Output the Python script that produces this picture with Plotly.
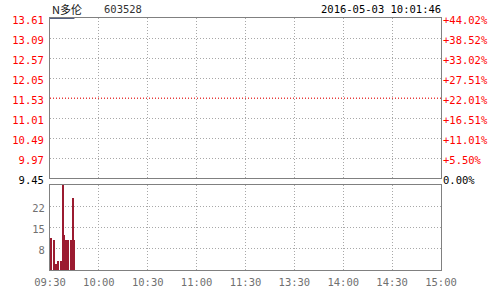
import plotly.graph_objects as go

# ---- data ----
stock_name = "N多伦"
stock_code = "603528"
timestamp = "2016-05-03 10:01:46"

price_ticks = [9.45, 9.97, 10.49, 11.01, 11.53, 12.05, 12.57, 13.09, 13.61]
pct_ticks = ["0.00%", "+5.50%", "+11.01%", "+16.51%", "+22.01%", "+27.51%", "+33.02%", "+38.52%", "+44.02%"]

time_ticks = [0, 30, 60, 90, 120, 150, 180, 210, 240]
time_labels = ["09:30", "10:00", "10:30", "11:00", "11:30", "13:30", "14:00", "14:30", "15:00"]

price_minutes = [0, 1, 2, 3, 4, 5, 6, 7, 8, 9, 10, 11, 12, 13, 14, 15]
price_values = [13.61, 13.61, 13.61, 13.61, 13.61, 13.61, 13.61, 13.61,
                13.61, 13.61, 13.61, 13.61, 13.61, 13.61, 13.61, 13.61]

vol_minutes = [0.6, 2.3, 3.8, 5.2, 6.6, 8.1, 8.6, 10.0, 11.4, 12.8, 14.1, 14.6]
vol_values = [11.1, 10.2, 2.1, 3.1, 3.1, 29.4, 12.1, 10.2, 10.2, 10.2, 24.7, 10.2]

vol_max = 29.33
vol_grid = [7.33, 14.67, 22.0]
vol_labels = ["8", "15", "22"]

# ---- styles ----
FONT = "DejaVu Sans Mono"
RED = "#ff0000"
GRAY = "#808080"
GRID = "#a8a8a8"
BAR = "#9b1b30"
DOT = "1px,2px"

fig = go.Figure()

fig.add_trace(go.Scatter(x=price_minutes, y=price_values, mode="lines",
                         line=dict(color="#1a2a5a", width=1.5),
                         xaxis="x", yaxis="y", showlegend=False, hoverinfo="skip"))
# invisible carrier for the right-hand percent axis
fig.add_trace(go.Scatter(x=[price_minutes[0]], y=[price_values[0]], mode="markers",
                         marker=dict(opacity=0), xaxis="x", yaxis="y3",
                         showlegend=False, hoverinfo="skip"))

fig.add_trace(go.Bar(x=vol_minutes, y=vol_values, width=0.8,
                     marker=dict(color=BAR, line=dict(width=0)),
                     xaxis="x2", yaxis="y2", showlegend=False, hoverinfo="skip"))

left_text = [f'<span style="color:black">{p:.2f}</span>' if i == 0 else f"{p:.2f}"
             for i, p in enumerate(price_ticks)]
right_text = [f'<span style="color:black">{t}</span>' if i == 0 else t
              for i, t in enumerate(pct_ticks)]

main_dom = [0.364, 1.0]
vol_dom = [0.0, 0.337]

fig.update_layout(
    width=500, height=300,
    margin=dict(l=47, r=51, t=18, b=21),
    paper_bgcolor="white", plot_bgcolor="white",
    bargap=0,
    xaxis=dict(domain=[0, 1], range=[0, 240], tickvals=time_ticks, showticklabels=False,
               showgrid=True, gridcolor=GRID, griddash=DOT, gridwidth=1,
               showline=True, linecolor=GRAY, linewidth=1, mirror=True,
               zeroline=False, ticks="", anchor="y"),
    yaxis=dict(domain=main_dom, range=[price_ticks[0], price_ticks[-1]],
               tickvals=price_ticks, ticktext=left_text,
               tickfont=dict(family=FONT, size=10.5, color=RED),
               showgrid=True, gridcolor=GRID, griddash=DOT, gridwidth=1,
               showline=True, linecolor=GRAY, linewidth=1, mirror=True,
               zeroline=False, ticks="", ticklabelstandoff=3, ticklabelshift=2, anchor="x"),
    yaxis3=dict(domain=main_dom, range=[price_ticks[0], price_ticks[-1]],
                overlaying="y", side="right", anchor="x",
                tickvals=price_ticks, ticktext=right_text,
                tickfont=dict(family=FONT, size=10.5, color=RED),
                showgrid=False, showline=False, zeroline=False, ticks="",
                ticklabelstandoff=1, ticklabelshift=2),
    xaxis2=dict(domain=[0, 1], range=[0, 240], tickvals=time_ticks, ticktext=time_labels,
                tickfont=dict(family=FONT, size=10.5, color="#707070"),
                showgrid=True, gridcolor=GRID, griddash=DOT, gridwidth=1,
                showline=True, linecolor=GRAY, linewidth=1, mirror=True,
                zeroline=False, ticks="", anchor="y2", ticklabelstandoff=2),
    yaxis2=dict(domain=vol_dom, range=[0, vol_max], tickvals=vol_grid, ticktext=vol_labels,
                tickfont=dict(family=FONT, size=10.5, color="#707070"),
                showgrid=True, gridcolor=GRID, griddash=DOT, gridwidth=1,
                showline=True, linecolor=GRAY, linewidth=1, mirror=True,
                zeroline=False, ticks="", anchor="x2", ticklabelstandoff=2, ticklabelshift=2),
)

# red dotted midline at the middle price level
fig.add_shape(type="line", xref="x", yref="y", x0=0, x1=240,
              y0=price_ticks[4], y1=price_ticks[4],
              line=dict(color=RED, width=1, dash=DOT))

fig.add_annotation(text=stock_name, xref="paper", yref="paper", x=0, y=1,
                   xanchor="left", yanchor="middle", showarrow=False, yshift=9,
                   font=dict(family="Noto Sans CJK SC", size=11, color="#111111"))
fig.add_annotation(text=stock_code, xref="paper", yref="paper", x=0.132, y=1,
                   xanchor="left", yanchor="middle", showarrow=False, yshift=9,
                   font=dict(family=FONT, size=10.5, color="#333333"))
fig.add_annotation(text=timestamp, xref="paper", yref="paper", x=1.005, y=1,
                   xanchor="right", yanchor="middle", showarrow=False, yshift=9,
                   font=dict(family=FONT, size=10.5, color="#000000"))

fig.write_html("out.html")
